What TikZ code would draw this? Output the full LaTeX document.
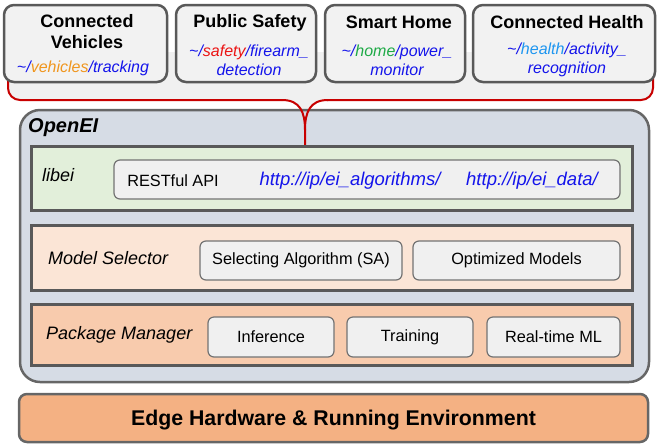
\documentclass[tikz,border=0pt]{standalone}
\usepackage{fontspec}
\setmainfont{Liberation Sans}
\definecolor{urlblue}{RGB}{20,20,235}
\definecolor{vehorange}{RGB}{240,150,30}
\definecolor{safred}{RGB}{235,20,20}
\definecolor{homegreen}{RGB}{30,170,70}
\definecolor{healthblue}{RGB}{30,150,240}
\definecolor{bracered}{RGB}{200,0,0}
\definecolor{openeifill}{RGB}{214,220,229}
\definecolor{libeifill}{RGB}{226,239,218}
\definecolor{modelfill}{RGB}{251,229,214}
\definecolor{pkgfill}{RGB}{248,203,173}
\definecolor{edgefill}{RGB}{244,177,131}
\newcommand{\fsz}[1]{\fontsize{#1}{#1}\selectfont}
\begin{document}
\begin{tikzpicture}[x=1pt,y=-1pt,
    appbox/.style={draw=black!65, line width=2.5pt, fill=black!5, rounded corners=10pt, minimum height=77pt},
    apptitle/.style={align=center, font=\fsz{18}\bfseries, inner sep=0pt},
    appurl/.style={align=center, font=\fsz{16}\itshape\color{urlblue}, inner sep=0pt},
    layer/.style={draw=black!65, line width=3pt, minimum width=601pt},
    layerlabel/.style={anchor=west, font=\fsz{18}\itshape, inner sep=0pt},
    item/.style={draw=black!55, line width=1.2pt, fill=black!6, rounded corners=6pt, minimum height=39pt, font=\fsz{16.3}},
    weburl/.style={font=\fsz{18.5}\itshape\color{urlblue}, inner sep=0pt}]
    \useasboundingbox (0,0) rectangle (663,445);
    % grey band and red brace behind the applications
    \fill[black!6] (8,52) -- (8,88) arc[start angle=180, end angle=90, radius=12] -- (282,100)
        .. controls (300,100) and (305,112) .. (305,130)
        .. controls (305,112) and (310,100) .. (328,100) -- (641,100)
        arc[start angle=90, end angle=0, radius=12] -- (653,52) -- cycle;
    % OpenEI framework
    \node[draw=black!60, line width=2.5pt, fill=openeifill, rounded corners=20pt,
        minimum width=629pt, minimum height=272pt] (openei) at (334.5,246) {};
    \node[anchor=west, font=\fsz{20}\bfseries\itshape, inner sep=0pt] (openeilabel) at (28,128) {OpenEI};
    \coordinate (tip) at (305,146);
    \draw[bracered, line width=2pt, rounded corners=12pt] (8,76) |- (282,100);
    \draw[bracered, line width=2pt] (282,100) .. controls (300,100) and (305,112) .. (305,130) -- (tip);
    \draw[bracered, line width=2pt] (305,130) .. controls (305,112) and (310,100) .. (328,100);
    \draw[bracered, line width=2pt, rounded corners=12pt] (327,100) -| (653,76);
    % applications
    \node[appbox, minimum width=163pt] (veh) at (85.5,43.5) {};
    \node[appbox, minimum width=140pt] (saf) at (246,43.5) {};
    \node[appbox, minimum width=140pt] (home) at (395,43.5) {};
    \node[appbox, minimum width=182pt] (health) at (564,43.5) {};
    \node[apptitle] (vehtitle) at (87,31.5) {Connected\\[3pt]Vehicles};
    \node[appurl] (vehurl) at (83,68) {\textasciitilde/{\color{vehorange}vehicles}/tracking};
    \node[apptitle] (saftitle) at (250,22.5) {Public Safety};
    \node[appurl] (safurl) at (249,60) {\textasciitilde/{\color{safred}safety}/firearm\_\\[3pt]detection};
    \node[apptitle] (hometitle) at (399,22.5) {Smart Home};
    \node[appurl] (homeurl) at (397,60) {\textasciitilde/{\color{homegreen}home}/power\_\\[3pt]monitor};
    \node[apptitle] (healthtitle) at (567,22.5) {Connected Health};
    \node[appurl] (healthurl) at (567,60) {\textasciitilde/{\color{healthblue}health}/activity\_\\[3pt]recognition};
    % libei
    \node[layer, fill=libeifill, minimum height=64pt] (libei) at (331.5,178) {};
    \node[layerlabel] (libeilabel) at (42,175) {libei};
    \node[item, minimum width=506pt] (rest) at (367,179.5) {};
    \node[font=\fsz{16.3}, inner sep=0pt] (restlabel) at (173,181) {RESTful API};
    \node[weburl] (algurl) at (350,181) {http://ip/ei\_algorithms/};
    \node[weburl] (dataurl) at (532,181) {http://ip/ei\_data/};
    % model selector
    \node[layer, fill=modelfill, minimum height=65pt] (model) at (331.5,257.5) {};
    \node[layerlabel] (modellabel) at (48,258) {Model Selector};
    \node[item, minimum width=202pt] (sa) at (301,260.5) {Selecting Algorithm (SA)};
    \node[item, minimum width=207pt] (optim) at (516.5,260.5) {Optimized Models};
    % package manager
    \node[layer, fill=pkgfill, minimum height=61pt] (pkg) at (331.5,334.5) {};
    \node[layerlabel] (pkglabel) at (46,335) {Package Manager};
    \node[item, minimum width=126pt, minimum height=40pt] (infer) at (271,337) {Inference};
    \node[item, minimum width=126pt, minimum height=40pt] (train) at (410,337) {Training};
    \node[item, minimum width=133pt, minimum height=40pt] (rtml) at (553.5,337) {Real-time ML};
    % hardware
    \node[draw=black!60, line width=2.5pt, fill=edgefill, rounded corners=8pt,
        minimum width=629pt, minimum height=48pt, text depth=0pt, font=\fsz{21.3}\bfseries] (edge) at (333.5,418)
        {Edge Hardware \& Running Environment};
\end{tikzpicture}
\end{document}
